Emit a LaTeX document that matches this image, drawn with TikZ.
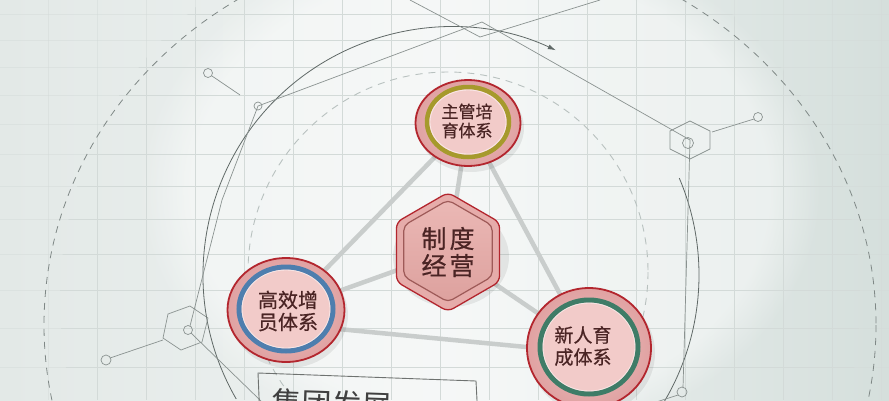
\documentclass[tikz,border=0pt]{standalone}
\usepackage{fontspec}
\newfontfamily\cjk{Noto Sans CJK SC}[FakeBold=0.6]
\newfontfamily\cjkplain{Noto Sans CJK SC}
\usetikzlibrary{shapes.geometric,arrows.meta,calc,fadings}
\pgfdeclarelayer{bgl}
\pgfdeclarelayer{edges}
\pgfsetlayers{bgl,edges,main}
\definecolor{bgL}{HTML}{E3E9E7}
\definecolor{bgM}{HTML}{EEF2F1}
\definecolor{bgR}{HTML}{D5DFDC}
\definecolor{gridC}{HTML}{D3DAD8}
\definecolor{decoC}{HTML}{8A9290}
\definecolor{dashO}{HTML}{7F8886}
\definecolor{dashI}{HTML}{B8C1BF}
\definecolor{arcC}{HTML}{5F6866}
\definecolor{connC}{HTML}{C9CDCC}
\definecolor{rimC}{HTML}{B3262E}
\definecolor{pinkIn}{HTML}{EFC2C1}
\definecolor{pinkOut}{HTML}{E0A2A2}
\definecolor{pinkCore}{HTML}{F2CBC9}
\definecolor{txtC}{HTML}{4A2424}
\definecolor{ringT}{HTML}{A69A2C}
\definecolor{ringL}{HTML}{4E7EAE}
\definecolor{ringR}{HTML}{3F7C67}
\definecolor{hexOut}{HTML}{E6ACAA}
\definecolor{hexInT}{HTML}{EBB8B5}
\definecolor{hexInB}{HTML}{DDA19E}
\definecolor{hexLine}{HTML}{9E5A58}
\definecolor{boxC}{HTML}{6E7270}
\begin{document}
\begin{tikzpicture}[x=1pt,y=-1pt]
\tikzset{
 conn/.style={line width=4.5pt, draw=connC, line cap=round},
 bubble/.style={ellipse, draw=rimC, line width=1.8pt, inner color=pinkIn, outer color=pinkOut, inner sep=0pt},
 lbl/.style={align=center, text=txtC, inner sep=0pt},
 deco/.style={draw=decoC, line width=0.7pt},
 gridl/.style={draw=gridC, line width=0.9pt},
 shadowc/.style={fill=black, opacity=0.07},
}
\useasboundingbox (0,0) rectangle (889,400);

% ---------- background ----------
\begin{pgfonlayer}{bgl}
\shade[left color=bgL, right color=bgR, middle color=bgM] (0,0) rectangle (889,400);
\fill[white, opacity=0.45, path fading=circle with fuzzy edge 15 percent] (480,190) ellipse (340 and 260);
\begin{scope}[opacity=0.45]
\foreach \y in {14,40,67,95,124,154,186,219,254,290,328,367}
  \draw[gridl] (0,\y) -- (889,\y);
\foreach \x in {48,97,...,881}
  \draw[gridl] (\x,0) -- (\x,400);
\end{scope}
\begin{scope}
\clip (460,300) ellipse (400 and 390);
\foreach \y in {14,40,67,95,124,154,186,219,254,290,328,367}
  \draw[gridl] (0,\y) -- (889,\y);
\foreach \x in {48,97,...,881}
  \draw[gridl] (\x,0) -- (\x,400);
\end{scope}
% dashed circles
\draw[dashO, line width=0.8pt, dash pattern=on 7pt off 6pt] (460,325) ellipse (416 and 385);
\draw[dashI, line width=0.9pt, dash pattern=on 7pt off 6pt] (448,272) circle (200);
% solid arcs
\draw[arcC, line width=0.8pt, -{Latex[length=8pt,width=5pt]}] (451,275) ++(150:248) arc[start angle=150, end angle=295, radius=248];
\draw[arcC, line width=0.8pt] (451,275) ++(337:248) arc[start angle=337, end angle=400, radius=248];
% frame lines
\draw[deco] (190,326) -- (222,200) -- (258,106) -- (482,22) -- (690,140) -- (683,388);
\draw[deco] (410,0) -- (480,37) -- (600,0);
\draw[deco] (212,76) -- (240,95);
\draw[deco] (208,73) circle (4.5);
\draw[deco] (258,106) circle (4);
% upper right small hexagon
\draw[deco] (690,121) -- (710,131) -- (710,149) -- (690,159) -- (670,149) -- (670,131) -- cycle;
\draw[deco] (688,143) circle (5.5);
\draw[deco] (712,132) -- (754,119);
\draw[deco] (758,117) circle (4.5);
% lower left small hexagon
\draw[deco] (190,306) -- (208,318) -- (202,342) -- (181,350) -- (163,338) -- (168,314) -- cycle;
\draw[deco] (188,330) circle (4.5);
\draw[deco] (163,340) -- (110,358);
\draw[deco] (106,360) circle (5);
\draw[deco] (191,333) -- (262,402);
% lower right
\draw[deco] (682,392) circle (5);
\draw[deco] (678,395) -- (650,404);
% bottom box
\draw[boxC, line width=0.9pt] (260,420) -- (258,373) -- (476,381) -- (478,420);
\node[anchor=west, rotate=-2, font=\cjkplain\fontsize{30}{30}\selectfont, text=black!75, inner sep=0pt] (box) at (272,402) {集团发展};
\end{pgfonlayer}

% ---------- nodes ----------
\node[bubble, minimum width=105pt, minimum height=86pt] (T) at (468,123) {};
\draw[ringT, line width=4.5pt, fill=pinkCore] (T.center) ++(0,-1) ellipse (41 and 35);
\draw[white, opacity=0.55, line width=0.8pt] (T.center) ++(0,-1) ellipse (38 and 32);
\node[lbl, font=\cjk\fontsize{17}{19}\selectfont] (Tt) at (467,121) {主管培\\育体系};

\node[bubble, minimum width=117pt, minimum height=104pt] (L) at (286,310) {};
\draw[ringL, line width=5pt, fill=pinkCore] (L.center) ++(0,-1) ellipse (47 and 42);
\draw[white, opacity=0.55, line width=0.8pt] (L.center) ++(0,-1) ellipse (44 and 39);
\node[lbl, font=\cjk\fontsize{20}{22}\selectfont] (Lt) at (288,311) {高效增\\员体系};

\node[bubble, minimum width=124pt, minimum height=120pt] (R) at (589,348) {};
\draw[ringR, line width=5pt, fill=pinkCore] (R.center) ++(0,-1) ellipse (49 and 47);
\draw[white, opacity=0.55, line width=0.8pt] (R.center) ++(0,-1) ellipse (46 and 44);
\node[lbl, font=\cjk\fontsize{19}{22}\selectfont] (Rt) at (583,346) {新人育\\成体系};

\node[regular polygon, regular polygon sides=6, shape border rotate=30, minimum size=119pt, inner sep=0pt, draw=rimC, line width=1.3pt, fill=hexOut, rounded corners=6pt] (C) at (448,252) {};
\node[regular polygon, regular polygon sides=6, shape border rotate=30, minimum size=102pt, inner sep=0pt, draw=hexLine, line width=1.2pt, top color=hexInT, bottom color=hexInB, rounded corners=5pt] (Cin) at (448,251) {};
\node[lbl, font=\cjk\fontsize{25}{27}\selectfont] (Ct) at (448,252) {制\hspace{3pt}度\\经\hspace{3pt}营};

% ---------- connectors and shadows ----------
\begin{pgfonlayer}{edges}
\draw[conn] (T.center) -- (L.center);
\draw[conn] (T.center) -- (R.center);
\draw[conn] (T.center) -- (C.center);
\draw[conn] (C.center) -- (L.center);
\draw[conn] (C.center) -- (R.center);
\draw[conn] ($(L.center)+(0,14)$) -- ($(R.center)+(0,5)$);
\fill[shadowc] ($(T.center)+(3,5)$) ellipse (53 and 44);
\fill[shadowc] ($(L.center)+(3,5)$) ellipse (59 and 53);
\fill[shadowc] ($(R.center)+(3,5)$) ellipse (63 and 61);
\fill[shadowc] ($(C.center)+(3,5)$) ellipse (58 and 50);
\end{pgfonlayer}
\end{tikzpicture}
\end{document}
